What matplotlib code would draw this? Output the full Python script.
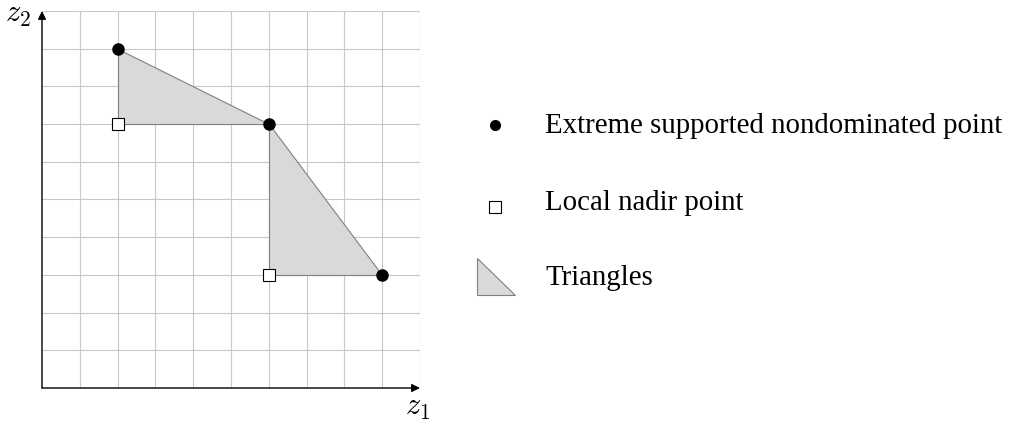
import matplotlib.pyplot as plt
from matplotlib.patches import Polygon

plt.rcParams['mathtext.fontset'] = 'cm'
plt.rcParams['font.family'] = 'Liberation Serif'

# extreme supported nondominated points and local nadir points
ext_x = [2, 6, 9]
ext_y = [9, 7, 3]
nadir_x = [2, 6]
nadir_y = [7, 3]

legend_labels = ['Extreme supported nondominated point', 'Local nadir point', 'Triangles']

fig = plt.figure(figsize=(10.11, 4.23), dpi=100)
W, H = 1011, 423
ax = fig.add_axes([42 / W, 35 / H, 378 / W, 377 / H])
ax.set_xlim(0, 10)
ax.set_ylim(0, 10)
for s in ax.spines.values():
    s.set_visible(False)
ax.set_xticks([])
ax.set_yticks([])

# grid
for i in range(1, 11):
    ax.axvline(i, color='#c8c8c8', lw=0.8, zorder=0)
    ax.axhline(i, color='#c8c8c8', lw=0.8, zorder=0)

# triangles: consecutive extreme points + nadir between them
for k in range(len(nadir_x)):
    tri = [(ext_x[k], ext_y[k]), (nadir_x[k], nadir_y[k]), (ext_x[k + 1], ext_y[k + 1])]
    ax.add_patch(Polygon(tri, closed=True, facecolor='#d9d9d9', edgecolor='#808080', lw=0.8, zorder=1))

ax.plot(nadir_x, nadir_y, ls='none', marker='s', ms=9, mfc='white', mec='black', mew=0.8, zorder=3)
ax.plot(ext_x, ext_y, ls='none', marker='o', ms=8, color='black', zorder=4)

# axes with arrows
ax.annotate('', xy=(10, 0), xytext=(0, 0),
            arrowprops=dict(arrowstyle='-|>', color='black', lw=1, mutation_scale=12, shrinkA=0, shrinkB=0))
ax.annotate('', xy=(0, 10), xytext=(0, 0),
            arrowprops=dict(arrowstyle='-|>', color='black', lw=1, mutation_scale=12, shrinkA=0, shrinkB=0))
fig.text(18 / W, 1 - 14 / H, '$z_2$', fontsize=22, ha='center', va='center')
fig.text(418 / W, 1 - 408 / H, '$z_1$', fontsize=22, ha='center', va='center')

# legend drawn manually
lx = 11.98
tx = 13.31
marker_ys = [6.98, 4.8]
text_ys = [6.76, 4.72, 2.73]
ax.plot(lx, marker_ys[0], marker='o', ms=7, color='black', clip_on=False)
ax.plot(lx, marker_ys[1], marker='s', ms=9, mfc='white', mec='black', mew=0.8, clip_on=False)
ax.add_patch(Polygon([(11.51, 3.45), (11.51, 2.47), (12.51, 2.47)], closed=True, facecolor='#d9d9d9',
                     edgecolor='#808080', lw=0.8, clip_on=False))
for y, lab in zip(text_ys, legend_labels):
    ax.text(tx, y, lab, fontsize=20.8, ha='left', va='baseline', clip_on=False)

fig.savefig('out.png', dpi=100)
